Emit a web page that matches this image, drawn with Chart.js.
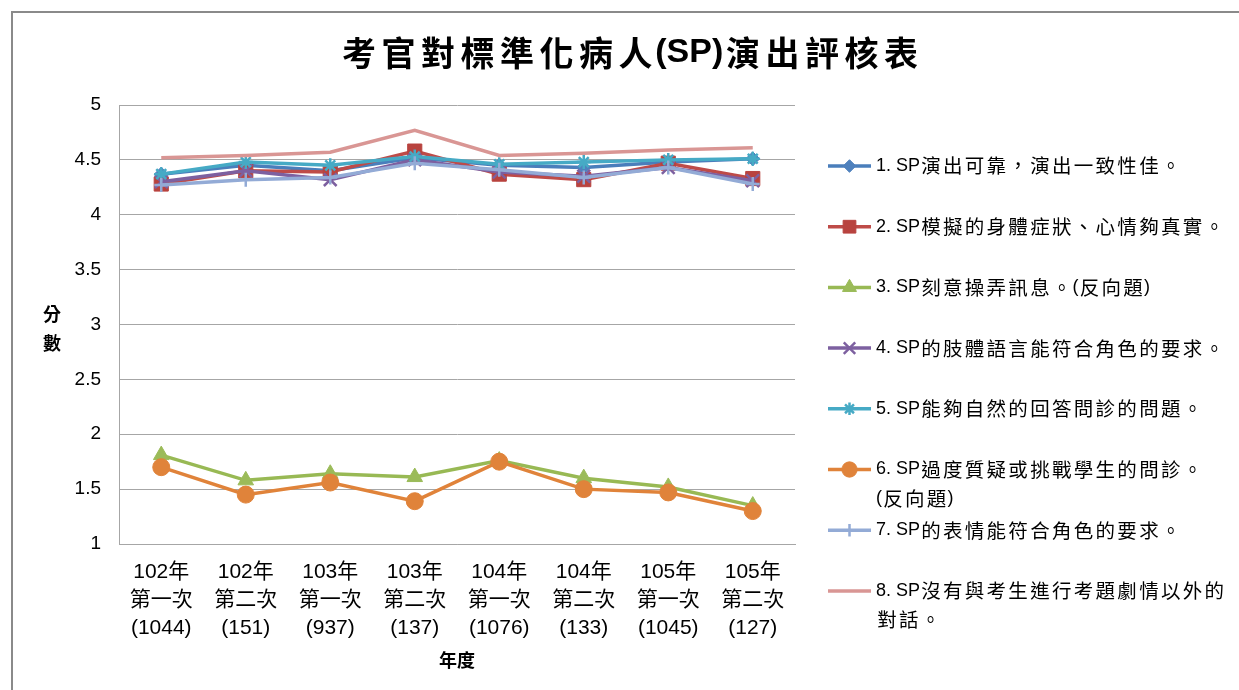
<!DOCTYPE html>
<html>
<head>
<meta charset="utf-8">
<script src="https://cdn.jsdelivr.net/npm/chart.js@4.4.0/dist/chart.umd.min.js"></script>
<style>
  html, body { margin: 0; padding: 0; background: #fff; }
  #wrap { position: relative; width: 1239px; height: 690px; }
</style>
</head>
<body>
<div id="wrap"><canvas id="graficoSP"></canvas></div>
<script>
// Datos
const categorias = [
  ["102年", "第一次", "(1044)"],
  ["102年", "第二次", "(151)"],
  ["103年", "第一次", "(937)"],
  ["103年", "第二次", "(137)"],
  ["104年", "第一次", "(1076)"],
  ["104年", "第二次", "(133)"],
  ["105年", "第一次", "(1045)"],
  ["105年", "第二次", "(127)"]
];
const serie1 = [4.37, 4.45, 4.40, 4.52, 4.45, 4.43, 4.48, 4.51];
const serie2 = [4.28, 4.40, 4.39, 4.58, 4.37, 4.32, 4.47, 4.33];
const serie3 = [1.81, 1.58, 1.64, 1.61, 1.76, 1.60, 1.52, 1.35];
const serie4 = [4.30, 4.40, 4.32, 4.50, 4.39, 4.35, 4.43, 4.31];
const serie5 = [4.37, 4.48, 4.45, 4.53, 4.46, 4.48, 4.50, 4.51];
const serie6 = [1.70, 1.45, 1.56, 1.39, 1.75, 1.50, 1.47, 1.30];
const serie7 = [4.27, 4.32, 4.34, 4.47, 4.41, 4.34, 4.43, 4.28];
const serie8 = [4.52, 4.54, 4.57, 4.77, 4.54, 4.56, 4.59, 4.61];

const nombresSeries = [
  ["1. SP演出可靠，演出一致性佳。"],
  ["2. SP模擬的身體症狀、心情夠真實。"],
  ["3. SP刻意操弄訊息。(反向題)"],
  ["4. SP的肢體語言能符合角色的要求。"],
  ["5. SP能夠自然的回答問診的問題。"],
  ["6. SP過度質疑或挑戰學生的問診。", "(反向題)"],
  ["7. SP的表情能符合角色的要求。"],
  ["8. SP沒有與考生進行考題劇情以外的", "對話。"]
];
const valoresY = [1, 1.5, 2, 2.5, 3, 3.5, 4, 4.5, 5];

const titulo = "考官對標準化病人(SP)演出評核表";
const tituloY = ["分", "數"];
const tituloX = "年度";

const estilos = [
  { linea: "#4A7EBB", relleno: "#4F81BD", forma: "rectRot", radio: 7 },
  { linea: "#BE4B48", relleno: "#B8433F", forma: "rect", radio: 10 },
  { linea: "#98B954", relleno: "#9BBB59", forma: "triangle", radio: 9 },
  { linea: "#7D60A0", relleno: "#7D60A0", forma: "crossRot", radio: 9 },
  { linea: "#46AAC5", relleno: "#46AAC5", forma: "star", radio: 7 },
  { linea: "#E0833A", relleno: "#E0833A", forma: "circle", radio: 8.5 },
  { linea: "#93ABD6", relleno: "#93ABD6", forma: "cross", radio: 7 },
  { linea: "#D99694", relleno: "#D99694", forma: "circle", radio: 0 }
];
const series = [serie1, serie2, serie3, serie4, serie5, serie6, serie7, serie8];

const fuente = '"Liberation Sans", "Noto Sans CJK TC", sans-serif';

function esCJK(c) { return c.charCodeAt(0) > 0x2E7F; }

// dibuja el texto con paso fijo para los caracteres CJK
function textoEspaciado(ctx, texto, x, y, paso, fLat, fCJK, centrado) {
  const chars = Array.from(texto);
  const anchos = chars.map(c => {
    if (esCJK(c)) return paso;
    ctx.font = fLat;
    return ctx.measureText(c).width;
  });
  const total = anchos.reduce((a, b) => a + b, 0);
  let cx = centrado ? x - total / 2 : x;
  chars.forEach((c, i) => {
    if (esCJK(c)) {
      ctx.font = fCJK;
      ctx.textAlign = "center";
      ctx.fillText(c, cx + paso / 2, y);
    } else {
      ctx.font = fLat;
      ctx.textAlign = "left";
      ctx.fillText(c, cx, y);
    }
    cx += anchos[i];
  });
}

const decoracion = {
  id: "decoracion",
  beforeDraw(chart) {
    const ctx = chart.ctx;
    ctx.save();
    ctx.strokeStyle = "#8A8A8A";
    ctx.lineWidth = 2;
    ctx.strokeRect(12, 12, 1400, 800);
    ctx.restore();
  },
  afterDraw(chart) {
    const ctx = chart.ctx;
    const area = chart.chartArea;
    ctx.save();
    ctx.fillStyle = "#000";
    ctx.textBaseline = "middle";

    textoEspaciado(ctx, titulo, 630, 53, 39.5,
      'bold 34px "Liberation Sans", sans-serif', 'bold 34px "Noto Sans CJK TC", sans-serif', true);

    ctx.textAlign = "center";
    ctx.font = 'bold 18px "Noto Sans CJK TC", sans-serif';
    tituloY.forEach((c, i) => ctx.fillText(c, 52, 314 + i * 29));
    ctx.fillText(tituloX, (area.left + area.right) / 2, 660);

    // Leyenda
    const x0 = 828, x1 = 871;
    chart.data.datasets.forEach((ds, i) => {
      const y = 166 + i * 60.7;
      ctx.strokeStyle = ds.borderColor;
      ctx.lineWidth = 3.5;
      ctx.beginPath();
      ctx.moveTo(x0, y);
      ctx.lineTo(x1, y);
      ctx.stroke();
      if (ds.pointRadius > 0) {
        ctx.fillStyle = ds.pointBackgroundColor;
        ctx.strokeStyle = ds.pointBorderColor;
        ctx.lineWidth = ds.pointBorderWidth;
        Chart.helpers.drawPoint(ctx, {
          pointStyle: ds.pointStyle,
          radius: ds.pointRadius * 0.9,
          rotation: 0,
          borderWidth: ds.pointBorderWidth
        }, (x0 + x1) / 2, y);
      }
      ctx.fillStyle = "#000";
      nombresSeries[i].forEach((t, k) =>
        textoEspaciado(ctx, t, 876, y + k * 29, 21.8,
          '18px "Liberation Sans", sans-serif', '19.5px "Noto Sans CJK TC", sans-serif', false));
    });
    ctx.restore();
  }
};

const datasets = series.map((valores, i) => {
  const e = estilos[i];
  return {
    label: nombresSeries[i].join(""),
    data: valores,
    borderColor: e.linea,
    backgroundColor: e.relleno,
    borderWidth: 3.5,
    pointStyle: e.forma,
    pointRadius: e.radio,
    pointHoverRadius: e.radio,
    pointBackgroundColor: e.relleno,
    pointBorderColor: e.relleno,
    pointBorderWidth: (e.forma === "cross" || e.forma === "crossRot" || e.forma === "star") ? 2.5 : 1,
    tension: 0,
    order: series.length - i
  };
});

const ctx = document.getElementById("graficoSP").getContext("2d");
new Chart(ctx, {
  type: "line",
  data: { labels: categorias, datasets },
  plugins: [decoracion],
  options: {
    responsive: true,
    maintainAspectRatio: false,
    animation: false,
    layout: { padding: { top: 105, right: 444, left: 0, bottom: 0 } },
    plugins: {
      legend: { display: false },
      title: { display: false },
      tooltip: { enabled: false }
    },
    scales: {
      x: {
        offset: true,
        grid: { display: false, drawTicks: false },
        border: { display: true, color: "#A6A6A6", width: 1 },
        ticks: {
          color: "#000",
          font: { family: fuente, size: 21, lineHeight: "28px" },
          padding: 14,
          maxRotation: 0,
          autoSkip: false
        },
        afterFit: s => { s.height = 146; }
      },
      y: {
        min: 1,
        max: 5,
        afterBuildTicks: s => { s.ticks = valoresY.map(v => ({ value: v })); },
        grid: { color: "#A6A6A6", lineWidth: 1, drawTicks: false },
        border: { display: true, color: "#A6A6A6", width: 1 },
        ticks: {
          color: "#000",
          font: { family: fuente, size: 19 },
          padding: 18,
          callback: v => String(v)
        },
        afterFit: s => { s.width = 119; }
      }
    }
  }
});
</script>
</body>
</html>
